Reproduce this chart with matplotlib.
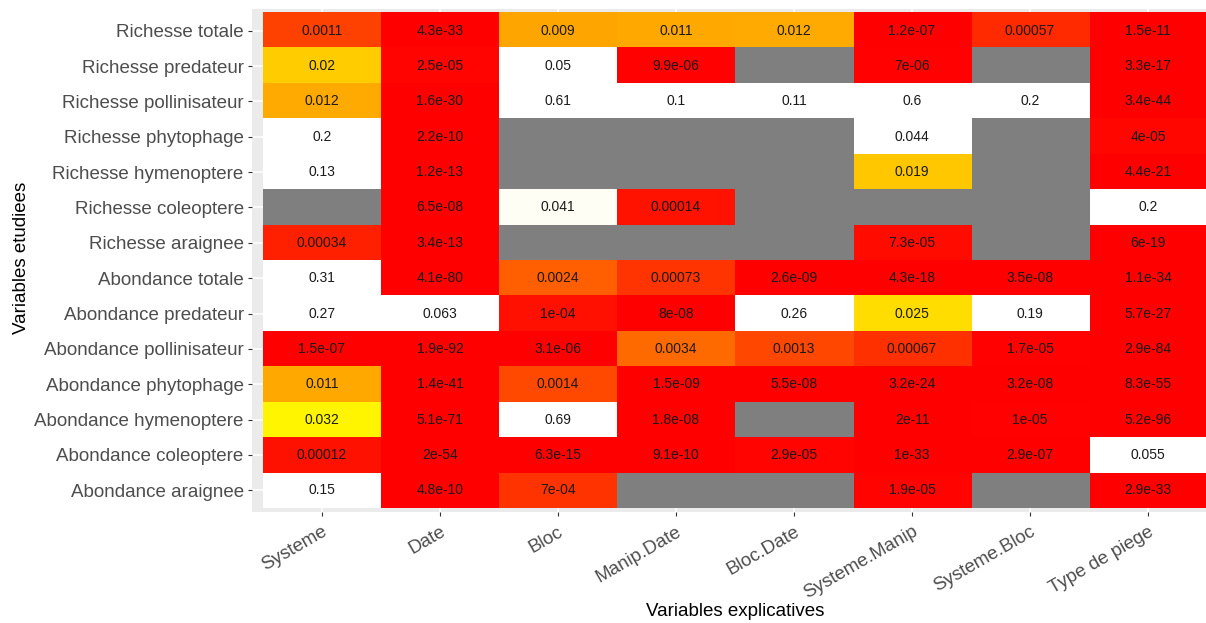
import numpy as np
import matplotlib
matplotlib.use("Agg")
import matplotlib.pyplot as plt
from matplotlib.colors import to_rgb

NA = np.nan

row_labels = ["Richesse totale", "Richesse predateur", "Richesse pollinisateur",
              "Richesse phytophage", "Richesse hymenoptere", "Richesse coleoptere",
              "Richesse araignee", "Abondance totale", "Abondance predateur",
              "Abondance pollinisateur", "Abondance phytophage", "Abondance hymenoptere",
              "Abondance coleoptere", "Abondance araignee"]

col_labels = ["Systeme", "Date", "Bloc", "Manip.Date", "Bloc.Date",
              "Systeme.Manip", "Systeme.Bloc", "Type de piege"]

richesse_totale = [0.0011, 4.3e-33, 0.009, 0.011, 0.012, 1.2e-07, 0.00057, 1.5e-11]
richesse_predateur = [0.02, 2.5e-05, 0.05, 9.9e-06, NA, 7e-06, NA, 3.3e-17]
richesse_pollinisateur = [0.012, 1.6e-30, 0.61, 0.1, 0.11, 0.6, 0.2, 3.4e-44]
richesse_phytophage = [0.2, 2.2e-10, NA, NA, NA, 0.044, NA, 4e-05]
richesse_hymenoptere = [0.13, 1.2e-13, NA, NA, NA, 0.019, NA, 4.4e-21]
richesse_coleoptere = [NA, 6.5e-08, 0.041, 0.00014, NA, NA, NA, 0.2]
richesse_araignee = [0.00034, 3.4e-13, NA, NA, NA, 7.3e-05, NA, 6e-19]
abondance_totale = [0.31, 4.1e-80, 0.0024, 0.00073, 2.6e-09, 4.3e-18, 3.5e-08, 1.1e-34]
abondance_predateur = [0.27, 0.063, 1e-04, 8e-08, 0.26, 0.025, 0.19, 5.7e-27]
abondance_pollinisateur = [1.5e-07, 1.9e-92, 3.1e-06, 0.0034, 0.0013, 0.00067, 1.7e-05, 2.9e-84]
abondance_phytophage = [0.011, 1.4e-41, 0.0014, 1.5e-09, 5.5e-08, 3.2e-24, 3.2e-08, 8.3e-55]
abondance_hymenoptere = [0.032, 5.1e-71, 0.69, 1.8e-08, NA, 2e-11, 1e-05, 5.2e-96]
abondance_coleoptere = [0.00012, 2e-54, 6.3e-15, 9.1e-10, 2.9e-05, 1e-33, 2.9e-07, 0.055]
abondance_araignee = [0.15, 4.8e-10, 7e-04, NA, NA, 1.9e-05, NA, 2.9e-33]

pvals = np.array([richesse_totale, richesse_predateur, richesse_pollinisateur,
                  richesse_phytophage, richesse_hymenoptere, richesse_coleoptere,
                  richesse_araignee, abondance_totale, abondance_predateur,
                  abondance_pollinisateur, abondance_phytophage, abondance_hymenoptere,
                  abondance_coleoptere, abondance_araignee], dtype=float)

# colour gradient anchors (style)
anchor_p = [0, 1e-4, 3.4e-4, 5.7e-4, 7e-4, 1.2e-3, 2.4e-3, 3.4e-3, 9e-3, 0.012,
            0.02, 0.025, 0.032, 0.041, 0.0435]
anchor_c = ["#FF0000", "#FF1000", "#FF2000", "#FF2A00", "#FF3300", "#FF4500",
            "#FF5F00", "#FF6A00", "#FFA500", "#FFAA00", "#FFCC00", "#FFDD00",
            "#FFF500", "#FFFEF5", "#FFFFFF"]
anchor_rgb = np.array([to_rgb(c) for c in anchor_c])
na_colour = to_rgb("#7F7F7F")


def colour_for(p):
    if np.isnan(p):
        return na_colour
    return tuple(np.interp(p, anchor_p, anchor_rgb[:, k]) for k in range(3))


def r_format(v):
    s2 = float("%.2g" % v)
    fixed = np.format_float_positional(s2, trim="-")
    m, e = ("%.1e" % s2).split("e")
    m = m.rstrip("0").rstrip(".")
    sci = m + "e" + e[0] + e[1:].zfill(2)
    return fixed if len(fixed) <= len(sci) else sci


plt.rcParams["font.family"] = ["Liberation Sans", "DejaVu Sans"]

W, H = 1206, 623
fig = plt.figure(figsize=(W / 100, H / 100), dpi=100)
px_left, px_right, px_top, px_bottom = 252, 1218, 9, 512
ax = fig.add_axes([px_left / W, 1 - px_bottom / H,
                   (px_right - px_left) / W, (px_bottom - px_top) / H])
ax.set_facecolor("#EBEBEB")

nrow, ncol = pvals.shape
rgb = np.array([[colour_for(pvals[i, j]) for j in range(ncol)] for i in range(nrow)])
ax.imshow(rgb, extent=(-0.5, ncol - 0.5, nrow - 0.5, -0.5), aspect="auto",
          interpolation="nearest", zorder=2)

for i in range(nrow):
    for j in range(ncol):
        v = pvals[i, j]
        if not np.isnan(v):
            ax.text(j, i, r_format(v), ha="center", va="center", fontsize=10,
                    color="#1A1A1A", zorder=3)

ax.set_xlim(-0.593, ncol - 0.5 + 0.093)
ax.set_ylim(nrow - 0.5 + 0.113, -0.5 - 0.113)

ax.set_xticks(range(ncol))
ax.set_yticks(range(nrow))
ax.set_xticklabels(col_labels, rotation=30, ha="right", va="top",
                   rotation_mode="anchor")
ax.set_yticklabels(row_labels)
ax.tick_params(axis="both", length=3, width=0.8, color="#333333",
               labelcolor="#4D4D4D", labelsize=13.5, pad=3)
ax.tick_params(axis="x", pad=5)
ax.grid(True, color="white", linewidth=1.1, zorder=1)
ax.set_axisbelow(True)
for s in ax.spines.values():
    s.set_visible(False)

fig.text(735 / W, 1 - 612 / H, "Variables explicatives",
         ha="center", va="center", fontsize=13.5, color="black")
fig.text(22 / W, 1 - 258 / H, "Variables etudiees", ha="center", va="center",
         rotation=90, fontsize=13.5, color="black")

fig.savefig("out.png", dpi=100)
